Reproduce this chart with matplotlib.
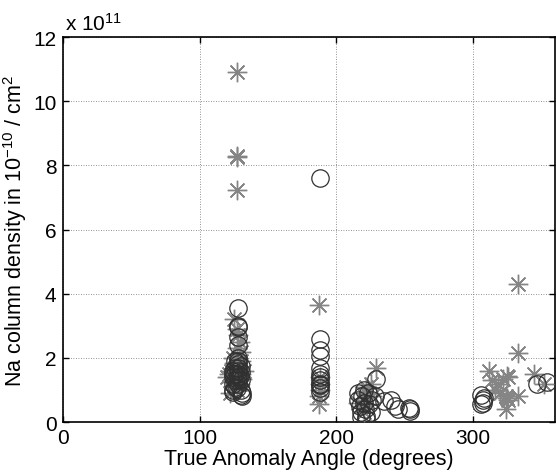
import matplotlib
matplotlib.use("Agg")
import matplotlib.pyplot as plt

plt.rcParams['font.family'] = ['Liberation Sans', 'DejaVu Sans']
plt.rcParams['mathtext.default'] = 'regular'

# Open circles: true anomaly angle (deg) and Na column density (units of 1e11 cm^-2)
circle_angle = [128, 128, 128, 128, 128, 128, 128, 128, 128, 128, 128, 128, 128, 128,
                124, 124, 124, 124, 124, 124, 126, 126, 126, 126, 126,
                130, 130, 130, 130, 130, 131, 131, 129, 127,
                188, 188, 188, 188, 188, 188, 188, 188, 188, 188, 188, 188,
                216, 216, 217, 218, 219, 220, 221, 222, 223, 224, 225, 218, 220, 226, 222,
                229, 228, 235, 240, 243, 245, 253, 254, 254,
                306, 307, 307, 308, 306,
                347, 354]
circle_value = [3.55, 3.0, 2.95, 2.65, 2.4, 2.0, 1.9, 1.8, 1.7, 1.6, 1.5, 1.4, 1.3, 1.2,
                1.6, 1.5, 1.4, 1.2, 1.0, 0.95, 1.7, 1.3, 1.1, 1.9, 1.5,
                1.75, 1.55, 1.3, 1.0, 0.85, 0.9, 0.8, 1.45, 1.05,
                7.6, 2.6, 2.25, 2.05, 1.7, 1.5, 1.4, 1.3, 1.2, 1.15, 1.05, 0.95,
                0.9, 0.7, 0.5, 0.3, 0.8, 0.6, 0.4, 0.2, 0.9, 0.55, 0.3, 0.15, 1.0, 0.7, 0.1,
                1.35, 0.8, 0.65, 0.7, 0.5, 0.4, 0.45, 0.35, 0.4,
                0.85, 0.7, 0.6, 0.75, 0.55,
                1.2, 1.25]

# Asterisks
star_angle = [127, 127, 127, 127,
              125, 127, 128, 129, 127, 130, 124, 126, 121, 123, 125, 128, 130, 132,
              124, 127, 122, 129, 126, 120, 125, 128, 130, 123, 127, 129, 131, 126,
              187, 188, 188, 188, 187, 187,
              229, 225, 222, 219, 221, 218, 224, 216, 220, 226,
              312, 314, 318, 322, 325, 326, 316, 320, 324, 325, 326, 324,
              333, 333, 333, 345, 352]
star_value = [10.9, 8.3, 8.25, 7.25,
              3.2, 2.9, 2.7, 2.5, 2.3, 2.2, 2.0, 1.8, 1.5, 1.6, 1.4, 1.3, 1.5, 1.6,
              1.1, 1.0, 0.9, 1.2, 1.7, 1.4, 1.85, 1.75, 1.9, 1.25, 1.55, 1.65, 1.35, 1.45,
              3.65, 1.4, 1.2, 1.0, 0.8, 0.55,
              1.7, 1.2, 1.1, 0.9, 0.7, 0.5, 0.9, 0.6, 0.3, 0.8,
              1.6, 1.3, 1.2, 1.35, 1.45, 1.4, 1.0, 0.9, 0.8, 0.75, 0.7, 0.4,
              4.3, 2.15, 0.8, 1.5, 1.2]

x_ticks = [0, 100, 200, 300]
y_ticks = [0, 2, 4, 6, 8, 10, 12]

fig = plt.figure(figsize=(5.56, 4.77), dpi=100)
ax = fig.add_axes([0.114, 0.113, 0.884, 0.807])

ax.plot(star_angle, star_value, linestyle='none', marker=(8, 2, 0),
        markersize=14, markeredgecolor='#858585', markeredgewidth=1.0, zorder=3)
ax.plot(circle_angle, circle_value, linestyle='none', marker='o',
        markersize=12.5, markerfacecolor='none', markeredgecolor='#303030',
        markeredgewidth=0.9, zorder=4)

ax.set_xlim(0, 360)
ax.set_ylim(0, 12)
ax.set_xticks(x_ticks)
ax.set_yticks(y_ticks)
ax.grid(True, linestyle=(0, (1, 2)), color='#707070', linewidth=0.6)
ax.set_axisbelow(True)
ax.tick_params(direction='in', length=4, width=1, top=True, right=True,
               labelsize=15, colors='black')
ax.tick_params(axis='x', pad=4)
ax.tick_params(axis='y', pad=5)
for s in ax.spines.values():
    s.set_linewidth(1.2)

ax.set_xlabel('True Anomaly Angle (degrees)', fontsize=15.5, labelpad=1)
ax.set_ylabel('Na column density in 10$^{-10}$ / cm$^{2}$', fontsize=15.5, labelpad=3)
ax.text(0.003, 1.008, r'x 10$^{11}$', transform=ax.transAxes, fontsize=15,
        ha='left', va='bottom')

fig.savefig('out.png', dpi=100)
